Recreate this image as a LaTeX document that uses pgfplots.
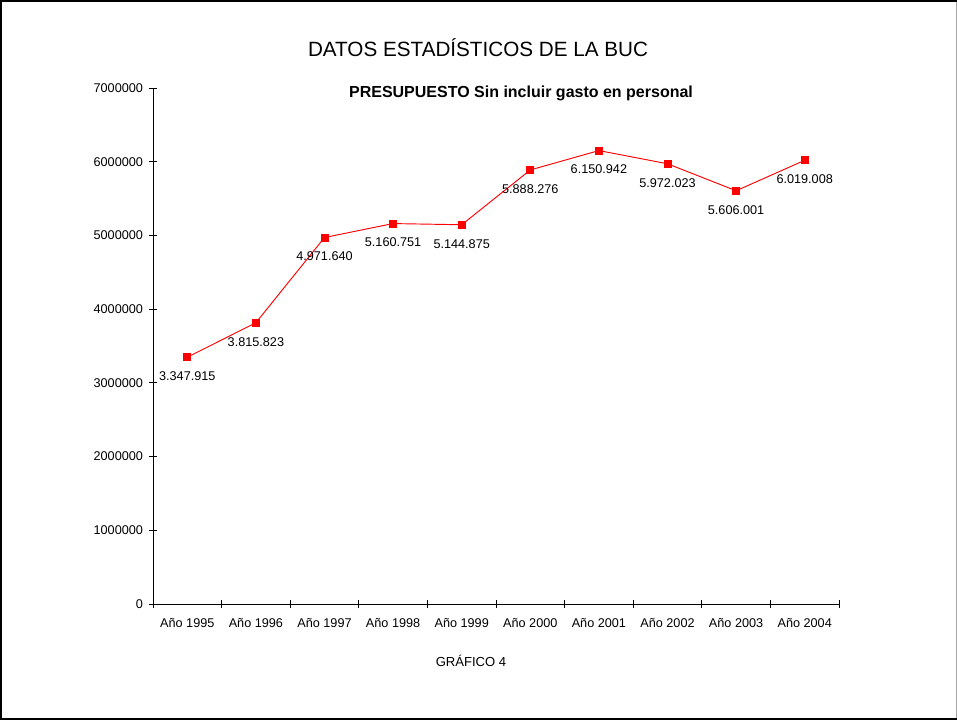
\documentclass[border=0pt]{standalone}
\usepackage{fontspec}
\setmainfont{Liberation Sans}
\usepackage{pgfplots}
\pgfplotsset{compat=1.18}
\usepackage{pgfplotstable}

% presupuesto por año (sin gasto en personal)
\pgfplotstableread{
x y label
0 3347915 3.347.915
1 3815823 3.815.823
2 4971640 4.971.640
3 5160751 5.160.751
4 5144875 5.144.875
5 5888276 5.888.276
6 6150942 6.150.942
7 5972023 5.972.023
8 5606001 5.606.001
9 6019008 6.019.008
}\presupuesto

\newcommand{\smallfont}{\fontsize{9.5}{11}\selectfont}

\begin{document}
\begin{tikzpicture}
  \useasboundingbox (0,0) rectangle (717.75pt,540pt);
  \begin{axis}[
      at={(114.75pt,87pt)},
      anchor=south west,
      scale only axis,
      width=514.5pt,
      height=387pt,
      style={/pgf/number format/assume math mode=true},
      xmin=-0.5, xmax=9.5,
      ymin=0, ymax=7000000,
      axis x line=bottom,
      axis y line=left,
      axis line style={-, black, line width=0.6pt},
      tick align=center,
      major tick length=6pt,
      tick style={black, line width=0.6pt},
      xtick={-0.5,0.5,...,9.5},
      x tick label as interval,
      xticklabels={Año 1995,Año 1996,Año 1997,Año 1998,Año 1999,
                   Año 2000,Año 2001,Año 2002,Año 2003,Año 2004},
      xticklabel style={yshift=-4.5pt},
      ytick={0,1000000,...,7000000},
      scaled y ticks=false,
      yticklabel style={/pgf/number format/fixed, /pgf/number format/1000 sep={}, xshift=-1pt},
      tick label style={font=\smallfont},
      point meta=explicit symbolic,
      nodes near coords,
      every node near coord/.append style={font=\smallfont, anchor=north,
        inner sep=0pt, yshift=-10.5pt, text=black},
      clip=false,
    ]
    \addplot[red, line width=0.7pt, mark=square*, mark size=2.6pt,
      mark options={fill=red, draw=red}]
      table[x=x, y=y, meta=label] {\presupuesto};
  \end{axis}
  \node[font=\fontsize{15.5}{18}\selectfont] at (358.5pt,504pt) {DATOS ESTADÍSTICOS DE LA BUC};
  \node[font=\fontsize{12}{14}\selectfont\bfseries] at (390.75pt,470.25pt) {PRESUPUESTO Sin incluir gasto en personal};
  \node[font=\fontsize{9.8}{12}\selectfont] at (353.25pt,44.25pt) {GRÁFICO 4};
  \draw[gray!70, line width=0.75pt] (717.4pt,0) -- (717.4pt,540pt);
  \draw[black, line width=1.5pt] (717.75pt,0.75pt) -- (0.75pt,0.75pt) -- (0.75pt,539.25pt) -- (717.75pt,539.25pt);
\end{tikzpicture}
\end{document}
